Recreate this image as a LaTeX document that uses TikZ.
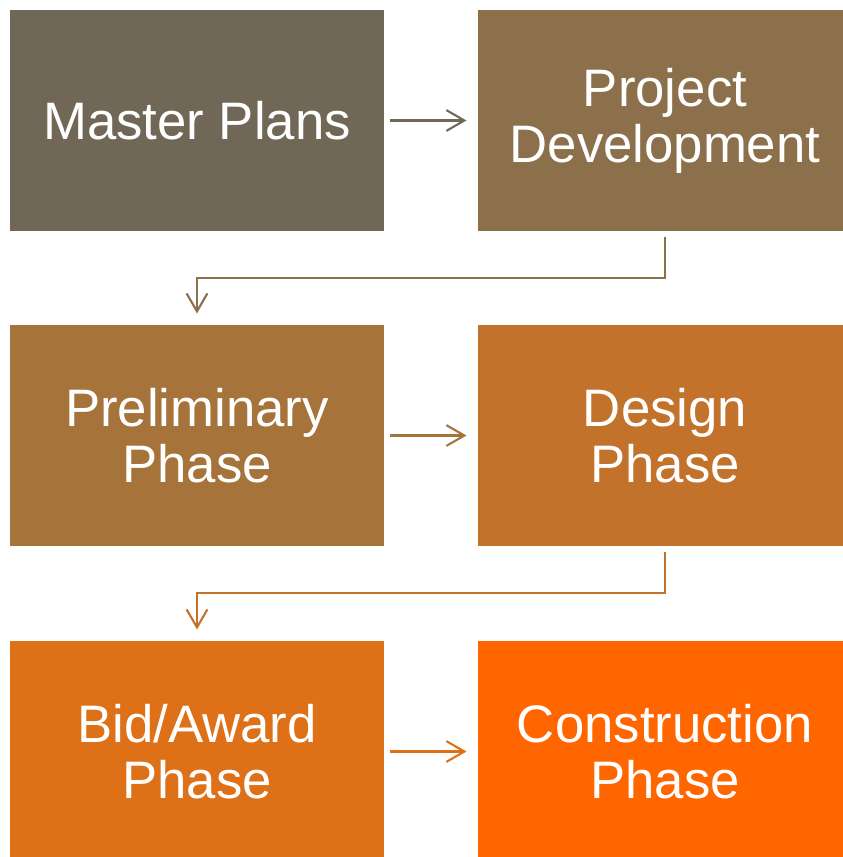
\documentclass[tikz,border=0pt]{standalone}
\usepackage{fontspec}
\setmainfont{Liberation Sans}
\usetikzlibrary{arrows.meta}

\definecolor{phaseA}{HTML}{716757}
\definecolor{phaseB}{HTML}{8B704B}
\definecolor{phaseC}{HTML}{A6743B}
\definecolor{phaseD}{HTML}{C2722B}
\definecolor{phaseE}{HTML}{DE7018}
\definecolor{phaseF}{HTML}{FF6600}

\begin{document}
\begin{tikzpicture}[x=0.025cm, y=-0.025cm]
  \tikzstyle{phase}=[minimum width=9.35cm, minimum height=5.525cm, inner sep=0pt, text=white, align=center, font=\fontsize{37.5}{40}\selectfont]
  \tikzstyle{link}=[line width=1.5pt, -{Straight Barb[length=0.45cm, width=0.52cm]}, shorten <=0.15cm, shorten >=0.28cm]

  \useasboundingbox (0, 0) rectangle (843, 857);
  \clip (0, 0) rectangle (843, 857);

  \node[phase, fill=phaseA] (mp) at (197, 120.5) {Master Plans};
  \node[phase, fill=phaseB] (pd) at (665, 120.5) {Project\\Development};
  \node[phase, fill=phaseC] (pp) at (197, 435.5) {Preliminary\\Phase};
  \node[phase, fill=phaseD] (dp) at (665, 435.5) {Design\\Phase};
  \node[phase, fill=phaseE] (bp) at (197, 751.5) {Bid/Award\\Phase};
  \node[phase, fill=phaseF] (cp) at (665, 751.5) {Construction\\Phase};

  \draw[link, phaseA] (mp.east) -- (pd.west);
  \draw[link, phaseB] (pd.south) -- ++(0, 47) -| (pp.north);
  \draw[link, phaseC] (pp.east) -- (dp.west);
  \draw[link, phaseD] (dp.south) -- ++(0, 47) -| (bp.north);
  \draw[link, phaseE] (bp.east) -- (cp.west);
\end{tikzpicture}
\end{document}
